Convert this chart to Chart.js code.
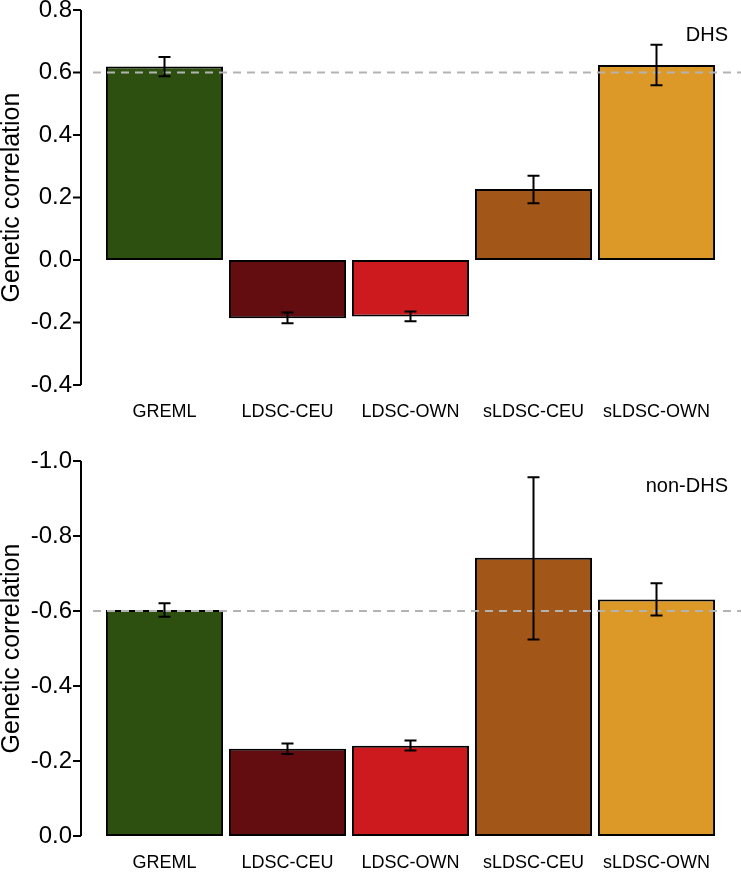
<!DOCTYPE html>
<html>
<head>
<meta charset="utf-8">
<script src="https://cdn.jsdelivr.net/npm/chart.js@4"></script>
<style>
body { margin: 0; background: #fff; }
canvas { display: block; }
</style>
</head>
<body>
<canvas id="dhsChart" width="741" height="436"></canvas>
<canvas id="nonDhsChart" width="741" height="436"></canvas>
<script>
var categories = ['GREML', 'LDSC-CEU', 'LDSC-OWN', 'sLDSC-CEU', 'sLDSC-OWN'];
var barColors = ['#2d5010', '#640d10', '#cc1a1f', '#a25718', '#dd9927'];

// DHS panel
var dhsValues = [0.619, -0.186, -0.181, 0.227, 0.624];
var dhsLow = [0.588, -0.202, -0.196, 0.182, 0.559];
var dhsHigh = [0.650, -0.168, -0.165, 0.270, 0.689];
var dhsTicks = [-0.4, -0.2, 0.0, 0.2, 0.4, 0.6, 0.8];
var dhsTickLabels = ['-0.4', '-0.2', '0.0', '0.2', '0.4', '0.6', '0.8'];

// non-DHS panel
var nonDhsValues = [0.603, 0.233, 0.241, 0.742, 0.631];
var nonDhsLow = [0.585, 0.219, 0.228, 0.524, 0.588];
var nonDhsHigh = [0.621, 0.247, 0.255, 0.957, 0.674];
var nonDhsTicks = [0.0, 0.2, 0.4, 0.6, 0.8, 1.0];
var nonDhsTickLabels = ['0.0', '-0.2', '-0.4', '-0.6', '-0.8', '-1.0'];

var refLine = 0.6;
var fontFamily = '"Liberation Sans", Arial, Helvetica, sans-serif';

// error bars, reference line, R-style y axis and panel label
var extrasPlugin = {
    id: 'extras',
    afterDatasetsDraw: function (chart, args, opts) {
        var ctx = chart.ctx;
        var area = chart.chartArea;
        var x = chart.scales.x;
        var y = chart.scales.y;
        ctx.save();

        // dashed reference line
        var ry = y.getPixelForValue(opts.ref);
        ctx.strokeStyle = '#b3b3b3';
        ctx.lineWidth = 2;
        ctx.setLineDash([8, 6]);
        ctx.beginPath();
        ctx.moveTo(area.left - 10, ry);
        ctx.lineTo(chart.width, ry);
        ctx.stroke();
        ctx.setLineDash([]);

        // error bars
        ctx.strokeStyle = '#000';
        ctx.lineWidth = 2;
        opts.low.forEach(function (lo, i) {
            var cx = x.getPixelForValue(i);
            var y1 = y.getPixelForValue(lo);
            var y2 = y.getPixelForValue(opts.high[i]);
            ctx.beginPath();
            ctx.moveTo(cx, y1); ctx.lineTo(cx, y2);
            ctx.moveTo(cx - 6, y1); ctx.lineTo(cx + 6, y1);
            ctx.moveTo(cx - 6, y2); ctx.lineTo(cx + 6, y2);
            ctx.stroke();
        });

        // y axis line with ticks
        var ax = area.left - 22;
        ctx.beginPath();
        ctx.moveTo(ax, y.getPixelForValue(opts.ticks[0]));
        ctx.lineTo(ax, y.getPixelForValue(opts.ticks[opts.ticks.length - 1]));
        opts.ticks.forEach(function (t) {
            var ty = y.getPixelForValue(t);
            ctx.moveTo(ax - 8, ty);
            ctx.lineTo(ax, ty);
        });
        ctx.stroke();

        // panel label
        ctx.fillStyle = '#000';
        ctx.font = '20px ' + fontFamily;
        ctx.textAlign = 'right';
        ctx.textBaseline = 'middle';
        ctx.fillText(opts.label, area.right + 10, area.top + 25);
        ctx.restore();
    }
};

function makeChart(id, values, low, high, ticks, tickLabels, label, padTop) {
    return new Chart(document.getElementById(id), {
        type: 'bar',
        data: {
            labels: categories,
            datasets: [{
                data: values,
                backgroundColor: barColors,
                borderColor: '#000',
                borderWidth: 2,
                borderSkipped: false,
                categoryPercentage: 1,
                barPercentage: 0.952
            }]
        },
        options: {
            responsive: false,
            animation: false,
            layout: { padding: { top: padTop, right: 23, bottom: 0, left: 0 } },
            scales: {
                x: {
                    grid: { display: false, drawTicks: false },
                    border: { display: false },
                    ticks: {
                        color: '#000',
                        font: { family: fontFamily, size: 18 },
                        padding: 16,
                        maxRotation: 0
                    },
                    afterFit: function (scale) {
                        scale.height = 436 - padTop - 375;
                        scale.paddingLeft = 0;
                        scale.paddingRight = 0;
                    }
                },
                y: {
                    min: ticks[0],
                    max: ticks[ticks.length - 1],
                    grid: { display: false, drawTicks: false },
                    border: { display: false },
                    afterBuildTicks: function (scale) {
                        scale.ticks = ticks.map(function (v) { return { value: v }; });
                    },
                    ticks: {
                        color: '#000',
                        font: { family: fontFamily, size: 24 },
                        padding: 31,
                        callback: function (value) {
                            var i = ticks.findIndex(function (t) { return Math.abs(t - value) < 1e-9; });
                            return tickLabels[i];
                        }
                    },
                    title: {
                        display: true,
                        text: 'Genetic correlation',
                        color: '#000',
                        font: { family: fontFamily, size: 25, lineHeight: 1 },
                        padding: 0
                    },
                    afterFit: function (scale) {
                        scale.width = 103;
                        scale.paddingTop = 0;
                        scale.paddingBottom = 0;
                    }
                }
            },
            plugins: {
                legend: { display: false },
                tooltip: { enabled: false },
                extras: { low: low, high: high, ticks: ticks, ref: refLine, label: label }
            }
        },
        plugins: [extrasPlugin]
    });
}

makeChart('dhsChart', dhsValues, dhsLow, dhsHigh, dhsTicks, dhsTickLabels, 'DHS', 10);
makeChart('nonDhsChart', nonDhsValues, nonDhsLow, nonDhsHigh, nonDhsTicks, nonDhsTickLabels, 'non-DHS', 25);
</script>
</body>
</html>
